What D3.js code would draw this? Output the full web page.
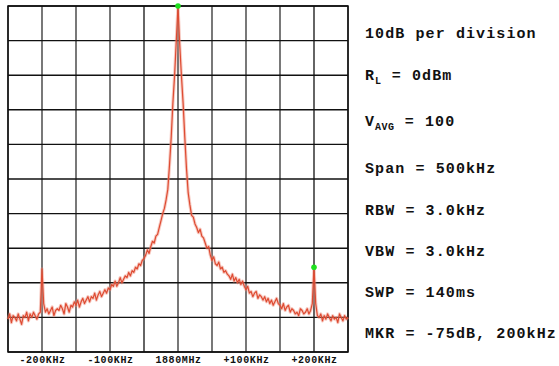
<!DOCTYPE html>
<html>
<head>
<meta charset="utf-8">
<script src="https://cdn.jsdelivr.net/npm/d3@7"></script>
<style>
  body { margin: 0; background: #fff; }
  svg { display: block; }
</style>
</head>
<body>
<svg id="chart"></svg>
<script>
// spectrum trace, dBm, sampled every 2.5 kHz from -250 kHz to +250 kHz
const traceDb = [
  // -250 .. -202.5
  -90.5, -89, -91.5, -89.5, -90, -91, -89, -90.5, -92, -89.5,
  -90, -88.5, -91, -89, -90, -88.5, -89.5, -90.5, -89, -88.5,
  // -200 .. -177.5
  -76, -86, -88.5, -87.5, -89, -88, -87, -89.5, -88, -87.5,
  // -175 .. -152.5
  -88, -86.5, -87.5, -89, -86, -87, -88.5, -86.5, -87, -85.5,
  // -150 .. -127.5
  -86.5, -85, -87, -85.5, -84.5, -86, -85, -84, -85.5, -84,
  // -125 .. -102.5
  -84.5, -83, -85, -83.5, -82.5, -84, -83, -82, -83, -81.5,
  // -100 .. -77.5
  -82, -80.5, -81, -79.5, -81, -80, -78.5, -80, -79, -78,
  // -75 .. -52.5
  -78.5, -77, -78, -76.5, -77, -75.5, -76, -74.5, -75, -73.5,
  // -50 .. -27.5
  -73, -72, -70.5, -71.5, -69.5, -68, -68.5, -66.5, -66, -64,
  // -25 .. -2.5
  -62, -60, -58.5, -56, -53, -46, -38, -28, -20, -10,
  // 0 (carrier)
  0,
  // 2.5 .. 22.5
  -11, -20, -28, -38, -47, -54, -57.5, -60.5, -61,
  // 25 .. 47.5
  -63, -64, -65.5, -64.5, -66.5, -67, -68.5, -70, -69.5, -72,
  // 50 .. 72.5
  -73.5, -72.5, -74.5, -75, -74, -76, -75.5, -77, -76.5, -77.5,
  // 75 .. 97.5
  -78, -79, -77.5, -79.5, -78.5, -80, -79, -80.5, -79.5, -81,
  // 100 .. 122.5
  -82, -81, -83, -82.5, -84, -83, -82.5, -84.5, -83.5, -84,
  // 125 .. 147.5
  -85, -84, -85.5, -84.5, -86, -85, -86.5, -85.5, -84.5, -86,
  // 150 .. 172.5
  -86.5, -87.5, -86, -88, -87, -86.5, -88.5, -87.5, -88, -89,
  // 175 .. 197.5
  -88.5, -89.5, -87.5, -88, -89, -88.5, -87.5, -89, -88, -86,
  // 200 (marker)
  -75.5,
  // 202.5 .. 250
  -86, -89.5, -90, -89, -91, -89.5, -90.5, -89, -90, -91,
  -89.5, -90.5, -90, -91.5, -89, -90, -91, -89.5, -90.5, -90
];
const traceKHz = d3.range(traceDb.length).map(i => -250 + i * 2.5);

const markers = [
  { khz: 0, db: 0 },
  { khz: 200, db: -75.5 }
];

const xTickVals = [-200, -100, 0, 100, 200];
const xTickLabels = ["-200KHz", "-100KHz", "1880MHz", "+100KHz", "+200KHz"];

const infoLines = [
  { text: "10dB per division" },
  { main: "R", sub: "L", rest: " = 0dBm" },
  { main: "V", sub: "AVG", rest: " = 100" },
  { text: "Span = 500kHz" },
  { text: "RBW = 3.0kHz" },
  { text: "VBW = 3.0kHz" },
  { text: "SWP = 140ms" },
  { text: "MKR = -75dB, 200kHz" }
];
const infoBaselines = [38, 80, 126, 173, 215, 256, 297, 338];

const W = 559, H = 366;
const plot = { left: 8, right: 348, top: 6, bottom: 352 };

const svg = d3.select("#chart").attr("width", W).attr("height", H);

const x = d3.scaleLinear().domain([-250, 250]).range([plot.left, plot.right]);
const y = d3.scaleLinear().domain([-100, 0]).range([plot.bottom, plot.top]);

// grid
const grid = svg.append("g");
grid.selectAll(".vline")
  .data(d3.range(-250, 251, 50))
  .enter().append("line")
  .attr("x1", d => x(d)).attr("x2", d => x(d))
  .attr("y1", plot.top).attr("y2", plot.bottom)
  .attr("stroke", d => (d === 200 || d === -50) ? "#111" : "#6a6a6a")
  .attr("stroke-width", d => (d === 200 || d === -50) ? 1.3 : 1.8);

grid.selectAll(".hline")
  .data(d3.range(-100, 1, 10))
  .enter().append("line")
  .attr("x1", plot.left).attr("x2", plot.right)
  .attr("y1", d => y(d)).attr("y2", d => y(d))
  .attr("stroke", "#111")
  .attr("stroke-width", 1.4);

svg.append("rect")
  .attr("x", plot.left).attr("y", plot.top)
  .attr("width", plot.right - plot.left).attr("height", plot.bottom - plot.top)
  .attr("fill", "none").attr("stroke", "#111").attr("stroke-width", 1.5);

// trace
const pts = traceKHz.map((k, i) => [k, traceDb[i]]);
const line = d3.line().x(d => x(d[0])).y(d => y(d[1]));

svg.append("path")
  .datum(pts)
  .attr("d", line)
  .attr("fill", "none")
  .attr("stroke", "#ee8a78")
  .attr("stroke-opacity", 0.45)
  .attr("stroke-width", 3.2)
  .attr("stroke-linejoin", "round");

svg.append("path")
  .datum(pts)
  .attr("d", line)
  .attr("fill", "none")
  .attr("stroke", "#de4b32")
  .attr("stroke-width", 1.2)
  .attr("stroke-linejoin", "round");

// markers
svg.selectAll(".mkr")
  .data(markers)
  .enter().append("circle")
  .attr("cx", d => x(d.khz))
  .attr("cy", d => y(d.db))
  .attr("r", 2.8)
  .attr("fill", "#1fe01f");

// x axis labels
const xAxis = d3.axisBottom(x)
  .tickValues(xTickVals)
  .tickFormat((d, i) => xTickLabels[i])
  .tickSize(0)
  .tickPadding(0);

const ax = svg.append("g")
  .attr("transform", "translate(0," + 356 + ")")
  .call(xAxis);
ax.select(".domain").remove();
ax.selectAll("text")
  .attr("dy", "0.71em")
  .attr("fill", "#111")
  .style("font-family", "'Liberation Mono', 'Courier New', monospace")
  .style("font-weight", "bold")
  .style("font-size", "10px")
  .style("letter-spacing", "0.6px");

// info text
const info = svg.append("g")
  .style("font-family", "'Liberation Mono', 'Courier New', monospace")
  .style("font-weight", "bold")
  .style("font-size", "15px")
  .style("letter-spacing", "1.1px")
  .attr("fill", "#111");

infoLines.forEach((l, i) => {
  const t = info.append("text").attr("x", 365).attr("y", infoBaselines[i]);
  if (l.text) {
    t.text(l.text);
  } else {
    t.append("tspan").text(l.main);
    t.append("tspan").attr("dy", 4).style("font-size", "10px").style("letter-spacing", "0.5px").text(l.sub);
    t.append("tspan").attr("dy", -4).text(l.rest);
  }
});
</script>
</body>
</html>
